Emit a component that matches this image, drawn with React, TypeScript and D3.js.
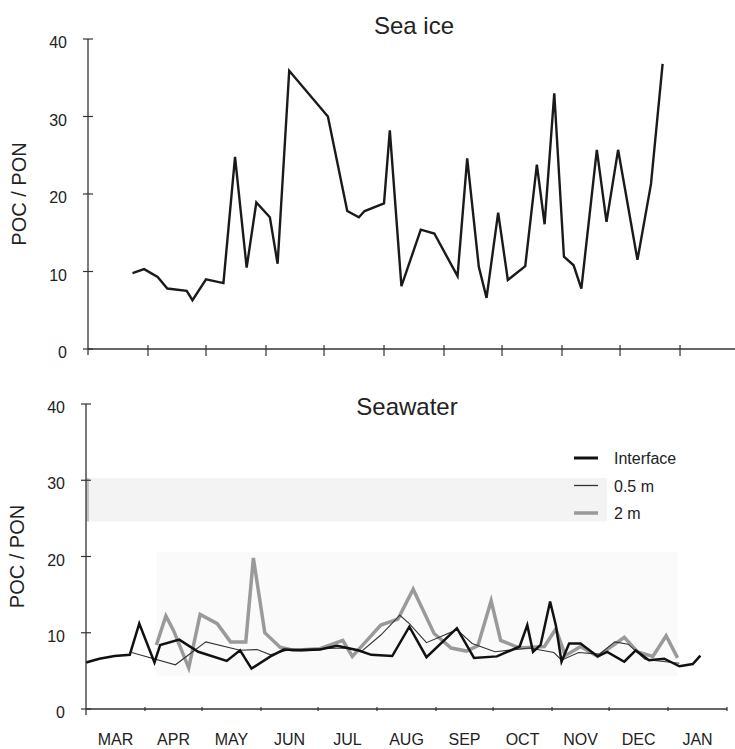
import React from "react";
import * as d3 from "d3";

// POC/PON ratio in sea ice (top) and seawater at three depths (bottom), Mar to Jan.

const seaIceDates = [
  "1991-03-24", "1991-03-30", "1991-04-06", "1991-04-11", "1991-04-21", "1991-04-24",
  "1991-05-01", "1991-05-10", "1991-05-16", "1991-05-22", "1991-05-27", "1991-06-03",
  "1991-06-07", "1991-06-13", "1991-07-03", "1991-07-13", "1991-07-19", "1991-07-22",
  "1991-08-01", "1991-08-04", "1991-08-10", "1991-08-20", "1991-08-27", "1991-09-08",
  "1991-09-13", "1991-09-19", "1991-09-23", "1991-09-29", "1991-10-04", "1991-10-13",
  "1991-10-19", "1991-10-23", "1991-10-28", "1991-11-02", "1991-11-07", "1991-11-11",
  "1991-11-19", "1991-11-24", "1991-11-30", "1991-12-10", "1991-12-17", "1991-12-23",
];
const seaIceRatio = [
  9.8, 10.3, 9.3, 7.8, 7.5, 6.3,
  9.0, 8.5, 24.8, 10.5, 18.9, 17.0,
  11.0, 35.9, 30.0, 17.8, 17.0, 17.8,
  18.8, 28.2, 8.1, 15.4, 14.9, 9.4,
  24.6, 10.6, 6.6, 17.6, 8.9, 10.7,
  23.8, 16.1, 33.0, 11.9, 10.8, 7.8,
  25.7, 16.4, 25.7, 11.5, 21.3, 36.8,
];

const interfaceDates = [
  "1991-03-01", "1991-03-08", "1991-03-16", "1991-03-24", "1991-03-29", "1991-04-06",
  "1991-04-09", "1991-04-19", "1991-04-29", "1991-05-14", "1991-05-21", "1991-05-27",
  "1991-06-06", "1991-06-13", "1991-06-22", "1991-07-02", "1991-07-11", "1991-07-22",
  "1991-07-29", "1991-08-09", "1991-08-18", "1991-08-27", "1991-09-12", "1991-09-21",
  "1991-10-03", "1991-10-15", "1991-10-19", "1991-10-22", "1991-10-26", "1991-10-31",
  "1991-11-03", "1991-11-06", "1991-11-10", "1991-11-16", "1991-11-25", "1991-11-30",
  "1991-12-09", "1991-12-15", "1991-12-22", "1991-12-30", "1992-01-07", "1992-01-14",
  "1992-01-18",
];
const interfaceRatio = [
  6.1, 6.6, 6.95, 7.1, 11.2, 6.1,
  8.4, 9.1, 7.5, 6.3, 7.7, 5.3,
  6.9, 7.8, 7.7, 7.8, 8.3, 7.7,
  7.1, 6.95, 10.8, 6.8, 10.6, 6.7,
  6.9, 8.2, 11.0, 7.5, 8.4, 14.1,
  11.0, 6.2, 8.6, 8.6, 6.9, 7.5,
  6.2, 7.7, 6.4, 6.6, 5.6, 5.9,
  7.0,
];

const halfMeterDates = [
  "1991-03-25", "1991-04-17", "1991-05-03", "1991-05-21", "1991-05-30", "1991-06-06",
  "1991-06-16", "1991-07-02", "1991-07-15", "1991-07-24", "1991-08-03", "1991-08-13",
  "1991-08-18", "1991-08-27", "1991-09-12", "1991-09-20", "1991-10-02", "1991-10-20",
  "1991-11-02", "1991-11-06", "1991-11-15", "1991-11-26", "1991-12-04", "1991-12-11",
  "1991-12-20", "1992-01-07",
];
const halfMeterRatio = [
  7.4, 5.8, 8.8, 7.7, 7.8, 7.1,
  7.8, 7.9, 8.0, 7.6, 9.7, 12.3,
  11.2, 8.7, 10.4, 8.6, 7.5, 8.0,
  7.4, 6.4, 7.4, 7.2, 8.8, 8.5,
  6.5, 6.0,
];

const twoMeterDates = [
  "1991-04-07", "1991-04-12", "1991-04-16", "1991-04-24", "1991-04-30", "1991-05-09",
  "1991-05-16", "1991-05-24", "1991-05-28", "1991-06-03", "1991-06-11", "1991-06-18",
  "1991-07-02", "1991-07-14", "1991-07-19", "1991-07-26", "1991-08-03", "1991-08-12",
  "1991-08-20", "1991-08-31", "1991-09-09", "1991-09-17", "1991-09-23", "1991-09-30",
  "1991-10-05", "1991-10-15", "1991-10-28", "1991-11-03", "1991-11-08", "1991-11-16",
  "1991-11-25", "1991-12-09", "1991-12-16", "1991-12-24", "1991-12-31", "1992-01-06",
];
const twoMeterRatio = [
  8.4, 12.2, 10.3, 5.4, 12.4, 11.2,
  8.8, 8.8, 19.8, 10.0, 8.1, 7.7,
  7.9, 9.0, 6.9, 8.8, 11.0, 11.8,
  15.7, 9.9, 8.0, 7.6, 8.3, 14.2,
  9.0, 8.0, 8.2, 10.5, 7.0, 8.2,
  6.9, 9.4, 7.5, 6.9, 9.6, 6.7,
];

const yTicks = [0, 10, 20, 30, 40];
const legendLabels = ["Interface", "0.5 m", "2 m"];

const parse = d3.timeParse("%Y-%m-%d");
const start = parse("1991-03-01")!;
const end = parse("1992-02-01")!;
const monthStarts = d3.timeMonth.range(start, end);
const monthBounds = d3.timeMonth.range(d3.timeDay.offset(start, 1), d3.timeDay.offset(end, 1));

const zip = (dates: string[], vals: number[]) =>
  dates.map((d, i) => ({ date: parse(d)!, v: vals[i] }));

const FONT = "'Liberation Sans', Arial, Helvetica, sans-serif";
const INK = "#222";

type Row = { date: Date; v: number };

function Panel(props: {
  x0: number; x1: number; yTop: number; yBot: number;
  title: string; titleX: number; titleY: number;
  showMonths: boolean; tickExt: [number, number];
  children: (x: d3.ScaleTime<number, number>, y: d3.ScaleLinear<number, number>) => React.ReactNode;
}) {
  const { x0, x1, yTop, yBot } = props;
  const x = d3.scaleTime().domain([start, end]).range([x0, x1]);
  const y = d3.scaleLinear().domain([0, 40]).range([yBot, yTop]);
  const fmt = d3.timeFormat("%b");
  return (
    <g>
      {props.children(x, y)}
      {/* y axis */}
      <line x1={x0} x2={x0} y1={yTop} y2={yBot + 6} stroke="#333" strokeWidth={1.3} />
      {yTicks.map((t) => (
        <g key={t}>
          <line x1={x0 - 5} x2={x0 + 5} y1={y(t)} y2={y(t)} stroke="#333" strokeWidth={1.2} />
          <text x={x0 - 21} y={y(t) + 9} textAnchor="end" fontSize={16} fill={INK} fontFamily={FONT}>
            {t}
          </text>
        </g>
      ))}
      <text
        transform={`translate(${x0 - 62},${(yTop + yBot) / 2}) rotate(-90)`}
        textAnchor="middle"
        fontSize={20}
        fill={INK}
        fontFamily={FONT}
      >
        POC / PON
      </text>
      {/* x axis */}
      <line x1={x0} x2={x1} y1={yBot} y2={yBot} stroke="#333" strokeWidth={1.3} />
      {monthStarts.slice(1).concat([end]).map((m, i) => (
        <line key={i} x1={x(m)} x2={x(m)} y1={yBot + props.tickExt[0]} y2={yBot + props.tickExt[1]} stroke="#333" strokeWidth={1.2} />
      ))}
      {props.showMonths &&
        monthStarts.map((m, i) => (
          <text
            key={i}
            x={(x(m) + x(monthBounds[i + 1] ? d3.timeMonth.offset(m, 1) : end)) / 2}
            y={yBot + 36}
            textAnchor="middle"
            fontSize={16}
            fill={INK}
            fontFamily={FONT}
          >
            {fmt(m).toUpperCase()}
          </text>
        ))}
      <text x={props.titleX} y={props.titleY} textAnchor="middle" fontSize={24} fill={INK} fontFamily={FONT}>
        {props.title}
      </text>
    </g>
  );
}

export default function App() {
  const seaIce = zip(seaIceDates, seaIceRatio);
  const iface = zip(interfaceDates, interfaceRatio);
  const half = zip(halfMeterDates, halfMeterRatio);
  const two = zip(twoMeterDates, twoMeterRatio);

  const mkLine = (x: d3.ScaleTime<number, number>, y: d3.ScaleLinear<number, number>) =>
    d3.line<Row>().x((d) => x(d.date)).y((d) => y(d.v));

  const legendStyles = [
    { stroke: "#111", width: 3 },
    { stroke: "#333", width: 1.3 },
    { stroke: "#999", width: 3.5 },
  ];

  return (
    <svg
      width={735}
      height={749}
      style={{ position: "absolute", left: 0, top: 0, background: "#fff" }}
    >
      <Panel x0={88} x1={740} yTop={39} yBot={349} title="Sea ice" titleX={414} titleY={34}
        showMonths={false} tickExt={[-4, 7]}>
        {(x, y) => (
          <path d={mkLine(x, y)(seaIce) ?? ""} fill="none" stroke="#1a1a1a" strokeWidth={2.4} strokeLinejoin="miter" />
        )}
      </Panel>
      <Panel x0={86} x1={727} yTop={404} yBot={709} title="Seawater" titleX={407} titleY={415}
        showMonths={true} tickExt={[-2, 2]}>
        {(x, y) => (
          <g>
            {/* faint scan shading */}
            <rect x={x(start)} y={y(30.3)} width={x(parse("1991-11-30")!) - x(start)} height={y(24.6) - y(30.3)} fill="#f3f3f3" />
            <rect x={x(start)} y={y(30.3)} width={3} height={y(24.6) - y(30.3)} fill="#c4c4c4" />
            <rect x={x(parse("1991-04-07")!)} y={y(20.6)} width={x(parse("1992-01-06")!) - x(parse("1991-04-07")!)} height={y(4.3) - y(20.6)} fill="#fafafa" />
            <path d={mkLine(x, y)(two) ?? ""} fill="none" stroke="#9a9a9a" strokeWidth={3.5} />
            <path d={mkLine(x, y)(half) ?? ""} fill="none" stroke="#333" strokeWidth={1.1} />
            <path d={mkLine(x, y)(iface) ?? ""} fill="none" stroke="#111" strokeWidth={2.5} />
            {legendLabels.map((l, i) => (
              <g key={l} transform={`translate(574,${458 + i * 27.5})`}>
                <line x1={0} x2={24} y1={0} y2={0} stroke={legendStyles[i].stroke} strokeWidth={legendStyles[i].width} />
                <text x={40} y={6} fontSize={16} fill={INK} fontFamily={FONT}>
                  {l}
                </text>
              </g>
            ))}
          </g>
        )}
      </Panel>
    </svg>
  );
}
